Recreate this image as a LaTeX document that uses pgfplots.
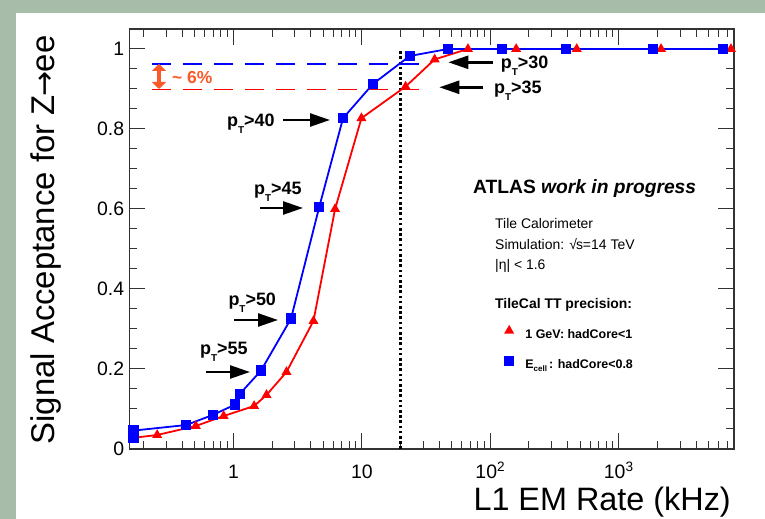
\documentclass[border=0pt]{standalone}
\usepackage{fontspec}
\setmainfont{Liberation Sans}
\newfontfamily\dejavu{DejaVu Sans}
\usepackage{pgfplots}
\pgfplotsset{compat=1.18}
\usetikzlibrary{arrows.meta}
\definecolor{bggreen}{RGB}{167,189,170}
\definecolor{annorange}{RGB}{250,90,40}
\begin{document}
\begin{tikzpicture}[x=1bp,y=1bp]
\fill[bggreen] (0,0) rectangle (765,519);
\path[use as bounding box] (0,0) rectangle (765,519);
\fill[white] (16,0) rectangle (765,506);
\begin{axis}[
  at={(129.4bp,70bp)}, anchor=south west,
  scale only axis, width=604.6bp, height=420bp,
  xmode=log, xmin=0.155, xmax=7900, ymin=0, ymax=1.05,
  xtick={1,10,100,1000},
  xticklabels={1,10,10\textsuperscript{2},10\textsuperscript{3}},
  minor xtick={0.2,0.3,0.4,0.5,0.6,0.7,0.8,0.9,2,3,4,5,6,7,8,9,20,30,40,50,60,70,80,90,200,300,400,500,600,700,800,900,2000,3000,4000,5000,6000,7000},
  ytick={0,0.2,0.4,0.6,0.8,1},
  yticklabels={0,0.2,0.4,0.6,0.8,1},
  minor y tick num=3,
  major tick length=16bp, minor tick length=8bp,
  tick style={black!80, line width=1bp},
  axis line style={black!80, line width=1.3bp},
  tick label style={font=\fontsize{19.5}{22}\selectfont},
  xticklabel style={anchor=base, yshift=-30bp},
  yticklabel style={anchor=east, inner sep=0pt, xshift=-5bp},
  legend style={draw=none, fill=none, at={(axis description cs:0.6212,0.2912)}, anchor=north west,
    inner sep=0pt, outer sep=0pt, row sep=16bp,
    font=\bfseries\fontsize{12.5}{15}\selectfont,
    nodes={inner sep=0pt, outer sep=0pt},
    /tikz/every odd column/.style={column sep=12bp}},
  legend cell align=left,
  legend image code/.code={\draw[#1] plot coordinates {(0bp,4.5bp)};},
]
% reference lines
\addplot[blue, line width=1.5bp, dash pattern=on 19bp off 12bp, forget plot] coordinates {(0.232,0.963) (30.3,0.963)};
\addplot[red, line width=1.5bp, dash pattern=on 19bp off 12bp, forget plot] coordinates {(0.232,0.899) (30.3,0.899)};
\addplot[black, line width=2.6bp, dash pattern=on 2.6bp off 2.6bp, forget plot] coordinates {(20,0) (20,1.0)};
% red: 1 GeV: hadCore<1
\addplot[red, line width=1.8bp, mark=triangle*, mark size=4bp, mark options={solid}] coordinates {
(0.167,0.028) (0.255,0.035) (0.51,0.0575) (0.84,0.0825) (1.45,0.1075) (1.81,0.135)
(2.59,0.1925) (4.2,0.32) (6.19,0.60) (9.93,0.827) (21.9,0.906) (36.9,0.974)
(67,1.0) (159,1.0) (471,1.0) (2136,1.0) (7480,1.0)};
\addlegendentry{1 GeV: hadCore<1}
% blue: E_cell: hadCore<0.8
\addplot[blue, line width=1.8bp, mark=square*, mark size=4.2bp, mark options={solid}] coordinates {
(0.167,0.028) (0.167,0.046) (0.43,0.06) (0.69,0.085) (1.03,0.111) (1.12,0.1375)
(1.64,0.196) (2.81,0.326) (4.65,0.604) (7.14,0.827) (12.2,0.9125) (23.6,0.9825)
(46.8,1.0) (124,1.0) (390,1.0) (1840,1.0) (6440,1.0)};
\addlegendentry{E\raisebox{-3bp}{\fontsize{8}{8}\selectfont cell}\,: hadCore<0.8}
\end{axis}
% axis titles
\node[rotate=90, anchor=base, font=\fontsize{33}{37}\selectfont, inner sep=0pt] at (54,279) {Signal Acceptance for Z\kern-1bp{\dejavu\fontsize{30}{34}\selectfont →}\kern-1bp ee};
\node[anchor=base east, font=\fontsize{32.5}{36}\selectfont, inner sep=0pt] at (731,8.3) {L1 EM Rate (kHz)};
% text block
\node[anchor=base west, inner sep=0pt, font=\bfseries\fontsize{19.3}{22}\selectfont] at (473,325.7) {ATLAS \textit{work in progress}};
\node[anchor=base west, inner sep=0pt, font=\fontsize{14}{17}\selectfont] at (495,290.7) {Tile Calorimeter};
\node[anchor=base west, inner sep=0pt, font=\fontsize{14}{17}\selectfont] at (495,269.7) {Simulation: √\kern-1bp s=14 TeV};
\node[anchor=base west, inner sep=0pt, font=\fontsize{14}{17}\selectfont] at (495,249.7) {|η| < 1.6};
\node[anchor=base west, inner sep=0pt, font=\bfseries\fontsize{14}{17}\selectfont] at (495,210.7) {TileCal TT precision:};
% pT annotations
\newcommand{\pT}[1]{p\raisebox{-7bp}{\fontsize{10}{10}\selectfont T}>#1}
\begin{scope}[every node/.style={anchor=base west, inner sep=0pt, font=\bfseries\fontsize{18}{21}\selectfont}]
\node at (227,392) {\pT{40}};
\node at (254,324) {\pT{45}};
\node at (228.3,213) {\pT{50}};
\node at (200,164) {\pT{55}};
\node at (500.7,450.7) {\pT{30}};
\node at (494,425.7) {\pT{35}};
\end{scope}
\begin{scope}[line width=2.5bp, -{Triangle[length=20bp,width=13bp]}]
\draw (283,399) -- (330,399);
\draw (260,311) -- (303,311);
\draw (234,199) -- (278,199);
\draw (206,147) -- (250,147);
\draw (493.3,456.7) -- (448.3,456.7);
\draw (483.3,431.7) -- (439.3,431.7);
\end{scope}
% ~6% arrow
\draw[annorange, line width=4.5bp, {Triangle[length=7bp,width=14bp]}-{Triangle[length=7bp,width=14bp]}] (159,455) -- (159,430);
\node[anchor=base west, inner sep=0pt, text=annorange, font=\bfseries\fontsize{17.5}{20}\selectfont] at (172,435.7) {\textasciitilde\ 6\%};
\end{tikzpicture}
\end{document}
